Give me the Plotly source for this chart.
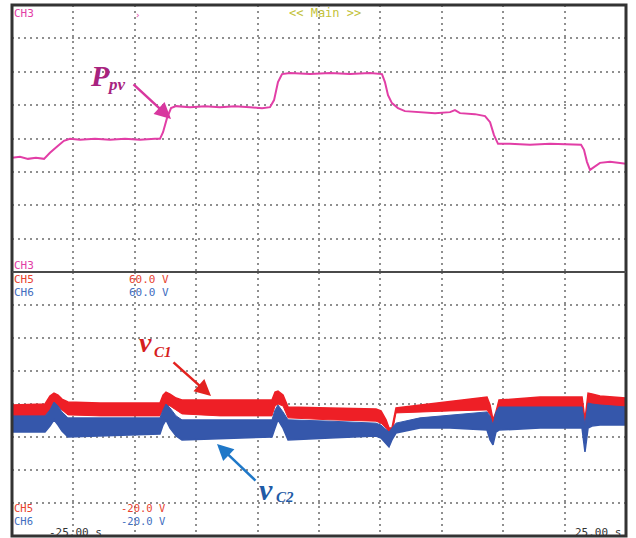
import plotly.graph_objects as go

W, H = 636, 538

# ---- data (time in s, P_pv in screen divisions, voltages in V) ----
p_time = [-25.0, -24.35, -23.70, -23.05, -22.39, -21.91, -21.25, -20.77, -20.28, -19.46,
          -18.24, -17.02, -15.80, -14.58, -13.36, -12.95, -12.70, -12.38, -12.05, -11.64,
          -10.50, -9.28, -8.06, -6.84, -5.62, -4.64, -3.99, -3.66, -3.34, -3.01,
          -2.36, -0.73, 0.90, 2.52, 4.15, 5.13, 5.37, 5.62, 5.94, 6.43,
          7.00, 8.22, 9.45, 10.67, 11.07, 11.48, 12.70, 13.52, 13.93, 14.25,
          14.58, 15.55, 17.18, 18.81, 20.44, 21.34, 21.58, 21.82, 22.07, 22.39,
          22.88, 23.70, 24.51, 25.0]
p_pv = [3.42, 3.45, 3.39, 3.42, 3.39, 3.57, 3.78, 3.93, 3.99, 3.96,
        3.99, 3.96, 3.99, 3.96, 3.99, 3.99, 4.19, 4.61, 4.91, 4.97,
        4.94, 4.97, 4.94, 4.97, 4.94, 4.91, 4.94, 5.15, 5.69, 5.93,
        5.96, 5.93, 5.96, 5.93, 5.96, 5.93, 5.69, 5.30, 5.06, 4.91,
        4.82, 4.79, 4.76, 4.79, 4.85, 4.76, 4.73, 4.67, 4.49, 4.10,
        3.84, 3.84, 3.81, 3.84, 3.81, 3.81, 3.66, 3.30, 3.06, 3.15,
        3.27, 3.30, 3.27, 3.24]

v_time = [-25.00, -22.31, -21.91, -21.58, -21.25, -20.93, -20.44, -17.83, -14.58, -12.95,
          -12.70, -12.46, -12.13, -11.64, -11.16, -8.06, -3.83, -3.58, -3.34, -2.93,
          -2.52, 0.90, 4.64, 5.05, 5.46, 5.70, 5.94, 6.27, 8.22, 10.67,
          13.68, 13.93, 14.17, 14.41, 14.66, 18.00, 21.42, 21.66, 21.91, 22.23,
          22.88, 25.00]
vc1_top = [19.7, 20.0, 22.4, 23.3, 22.7, 21.5, 20.6, 20.3, 20.3, 20.3,
           22.7, 23.6, 23.0, 21.8, 21.2, 21.2, 21.2, 23.6, 23.9, 22.7,
           19.1, 18.8, 18.5, 17.9, 15.2, 12.7, 12.7, 18.8, 19.7, 20.9,
           22.1, 19.7, 15.2, 17.6, 21.2, 22.1, 22.1, 15.2, 23.3, 23.0,
           22.4, 21.8]
vc1_bot = [16.4, 16.4, 18.2, 19.7, 19.4, 18.2, 16.7, 16.4, 16.4, 16.4,
           18.2, 19.7, 19.4, 18.2, 17.0, 16.4, 16.4, 19.4, 20.0, 19.4,
           15.8, 15.2, 14.8, 14.2, 12.7, 11.2, 10.9, 17.3, 17.6, 17.9,
           18.2, 16.7, 13.3, 15.2, 18.2, 18.8, 18.8, 13.3, 20.0, 19.7,
           19.1, 18.2]
vc2_top = [16.4, 16.4, 18.2, 20.6, 19.4, 17.6, 15.8, 15.8, 15.8, 15.8,
           18.2, 20.0, 18.8, 16.4, 15.2, 15.2, 15.2, 18.2, 19.7, 17.6,
           15.2, 14.8, 14.2, 13.6, 12.1, 11.5, 12.7, 14.2, 15.8, 16.7,
           17.6, 16.4, 13.6, 17.6, 19.1, 19.1, 19.1, 13.6, 20.3, 20.0,
           19.7, 19.1]
vc2_bot = [11.5, 11.5, 13.3, 15.2, 13.6, 11.8, 10.0, 10.3, 10.6, 10.9,
           13.6, 15.2, 12.7, 10.3, 9.1, 9.4, 10.0, 12.7, 15.2, 12.7,
           9.1, 9.7, 10.3, 9.7, 7.9, 7.0, 9.1, 11.2, 12.7, 12.7,
           12.1, 9.1, 7.6, 11.5, 12.1, 12.7, 12.7, 5.5, 12.7, 13.3,
           13.6, 13.6]

t_range = [-25, 25]
p_range = [0, 8]
v_range = [-20, 60]


def PX(x):
    return x / W


def PY(y):
    return 1 - y / H


PINK = "#e23ea6"
RED = "#ee1f26"
BLUE = "#3557ab"

fig = go.Figure()

# v_C1 band (red), drawn under v_C2
fig.add_trace(go.Scatter(x=v_time, y=vc1_bot, xaxis="x2", yaxis="y2", mode="lines",
                         line=dict(color=RED, width=1), hoverinfo="skip", showlegend=False))
fig.add_trace(go.Scatter(x=v_time, y=vc1_top, xaxis="x2", yaxis="y2", mode="lines",
                         line=dict(color=RED, width=1.5), fill="tonexty", fillcolor=RED,
                         hoverinfo="skip", showlegend=False))
# v_C2 band (blue)
fig.add_trace(go.Scatter(x=v_time, y=vc2_bot, xaxis="x2", yaxis="y2", mode="lines",
                         line=dict(color=BLUE, width=1.5), hoverinfo="skip", showlegend=False))
fig.add_trace(go.Scatter(x=v_time, y=vc2_top, xaxis="x2", yaxis="y2", mode="lines",
                         line=dict(color=BLUE, width=1), fill="tonexty", fillcolor=BLUE,
                         hoverinfo="skip", showlegend=False))
# P_pv
fig.add_trace(go.Scatter(x=p_time, y=p_pv, xaxis="x", yaxis="y", mode="lines",
                         line=dict(color=PINK, width=2), hoverinfo="skip", showlegend=False))

grid = dict(showgrid=True, gridcolor="#8f8f8f", gridwidth=2, griddash="2px,4px",
            zeroline=False, showticklabels=False, ticks="", showline=False)

top_dom = [PY(272), PY(5)]
bot_dom = [PY(536), PY(272)]
x_dom = [PX(12), PX(626)]

fig.update_layout(
    width=W, height=H,
    margin=dict(l=0, r=0, t=0, b=0),
    paper_bgcolor="white", plot_bgcolor="white",
    xaxis=dict(domain=x_dom, range=t_range, dtick=5, tick0=0, anchor="y", **grid),
    yaxis=dict(domain=top_dom, range=p_range, dtick=1, tick0=0, anchor="x", **grid),
    xaxis2=dict(domain=x_dom, range=t_range, dtick=5, tick0=0, anchor="y2", matches="x", **grid),
    yaxis2=dict(domain=bot_dom, range=v_range, dtick=10, tick0=0, anchor="x2", **grid),
    showlegend=False,
)

# frame and divider
fig.add_shape(type="rect", xref="paper", yref="paper",
              x0=PX(12), x1=PX(626), y0=PY(536), y1=PY(5),
              line=dict(color="#333333", width=3), layer="above")
fig.add_shape(type="line", xref="paper", yref="paper",
              x0=PX(12), x1=PX(626), y0=PY(272), y1=PY(272),
              line=dict(color="#4a4a4a", width=2), layer="above")

MONO = "DejaVu Sans Mono"


def label(text, x, y, color, size=11, xanchor="left"):
    fig.add_annotation(text=text, x=PX(x), y=PY(y), xref="paper", yref="paper",
                       xanchor=xanchor, yanchor="middle", showarrow=False,
                       borderpad=0,
                       font=dict(family=MONO, size=size, color=color))


label("CH3", 13, 13, PINK)
label("&lt;&lt; Main &gt;&gt;", 325, 13, "#c3c23a", size=12, xanchor="center")
label("›", 137, 15, PINK, size=9, xanchor="center")
label("CH3", 13, 266, PINK)
label("CH5", 13, 279, "#e8432f")
label("60.0 V", 128, 279, "#e8432f")
label("CH6", 13, 292, "#3f6ec0")
label("60.0 V", 128, 292, "#3f6ec0")
label("CH5", 13, 508, "#e8432f", size=10.5)
label("-20.0 V", 120, 508, "#e8432f", size=10.5)
label("CH6", 13, 521, "#3f6ec0", size=10.5)
label("-20.0 V", 120, 521, "#3f6ec0", size=10.5)
label("-25.00 s", 48, 532, "#333333")
label("25.00 s", 574, 532, "#333333")

SERIF = "Liberation Serif"


def sym(text, x, y, color, size):
    fig.add_annotation(text="<b><i>" + text + "</i></b>", x=PX(x), y=PY(y),
                       xref="paper", yref="paper", xanchor="left", yanchor="middle",
                       showarrow=False, font=dict(family=SERIF, size=size, color=color))


def arrow(tip_x, tip_y, tail_x, tail_y, color):
    fig.add_annotation(text="", x=PX(tip_x), y=PY(tip_y), xref="paper", yref="paper",
                       ax=tail_x - tip_x, ay=tail_y - tip_y, showarrow=True,
                       arrowhead=2, arrowsize=1.3, arrowwidth=2.5, arrowcolor=color,
                       standoff=0)


sym("P", 88, 75, "#a8237f", 30)
sym("pv", 105, 84, "#a8237f", 17)
arrow(171, 119, 132, 83, "#d8379f")

sym("v", 137, 342, "#d61e1e", 28)
sym("C1", 152, 352, "#d61e1e", 15)
arrow(211, 396, 172, 361, "#e3221f")

sym("v", 257, 489, "#1f5aa6", 30)
sym("C2", 274, 497, "#1f5aa6", 15)
arrow(217, 444, 257, 482, "#1f78c8")

fig.write_html("out.html")
